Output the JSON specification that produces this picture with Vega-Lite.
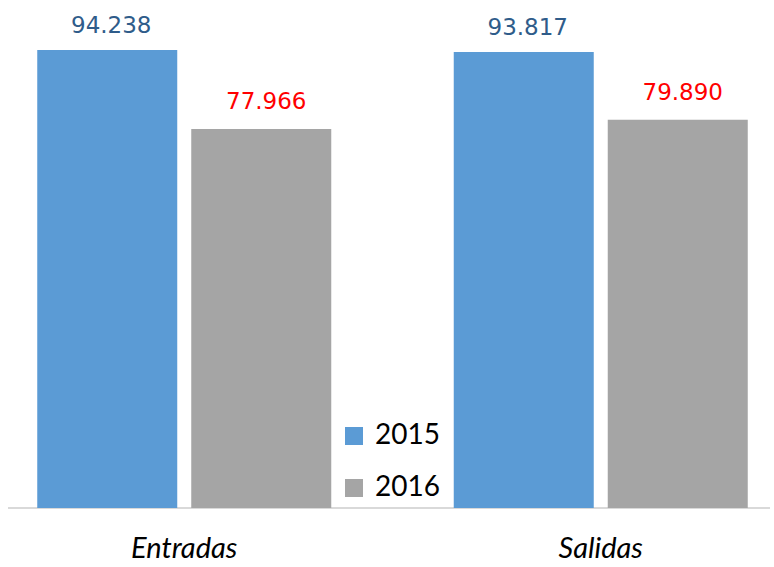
{
  "$schema": "https://vega.github.io/schema/vega-lite/v6.json",
  "width": 762,
  "height": 508,
  "padding": {"left": 8, "top": 0, "right": 4, "bottom": 59},
  "autosize": {"type": "none"},
  "background": "white",
  "config": {"view": {"stroke": null}},
  "data": {
    "values": [
      {"cat": "Entradas", "year": "2015", "value": 94238, "label": "94.238"},
      {"cat": "Entradas", "year": "2016", "value": 77966, "label": "77.966"},
      {"cat": "Salidas", "year": "2015", "value": 93817, "label": "93.817"},
      {"cat": "Salidas", "year": "2016", "value": 79890, "label": "79.890"}
    ]
  },
  "encoding": {
    "x": {
      "field": "cat",
      "type": "nominal",
      "sort": ["Entradas", "Salidas"],
      "scale": {"range": [-32, 801], "paddingInner": 0, "paddingOuter": 0},
      "axis": {
        "title": null,
        "domain": false,
        "ticks": false,
        "labelAngle": 0,
        "labelFont": "Lato",
        "labelFontStyle": "italic",
        "labelFontSize": 29,
        "labelColor": "#000000",
        "labelPadding": 26
      }
    },
    "xOffset": {
      "field": "year",
      "type": "nominal",
      "scale": {"paddingInner": 0.0909, "paddingOuter": 0.3977}
    },
    "y": {
      "field": "value",
      "type": "quantitative",
      "scale": {"domain": [0, 104525]},
      "axis": null
    }
  },
  "layer": [
    {
      "mark": {"type": "rule", "color": "#d9d9d9", "strokeWidth": 1.5},
      "encoding": {"x": null, "xOffset": null, "y": {"datum": 0, "type": "quantitative"}}
    },
    {
      "mark": {"type": "bar"},
      "encoding": {
        "color": {
          "field": "year",
          "type": "nominal",
          "scale": {"domain": ["2015", "2016"], "range": ["#5B9BD5", "#A5A5A5"]},
          "legend": {
            "title": null,
            "orient": "none",
            "legendX": 332,
            "legendY": 422,
            "padding": 0,
            "symbolType": "square",
            "symbolSize": 324,
            "symbolStrokeWidth": 0,
            "labelFont": "Lato",
            "labelFontSize": 28,
            "labelColor": "#000000",
            "labelOffset": 7,
            "rowPadding": 24
          }
        }
      }
    },
    {
      "transform": [{"filter": "datum.year == '2015'"}],
      "mark": {"type": "text", "dy": -17, "dx": 4, "baseline": "alphabetic", "font": "DejaVu Sans", "fontSize": 23, "color": "#2F5C8A"},
      "encoding": {"text": {"field": "label"}}
    },
    {
      "transform": [{"filter": "datum.year == '2016'"}],
      "mark": {"type": "text", "dy": -20, "dx": 5, "baseline": "alphabetic", "font": "DejaVu Sans", "fontSize": 23, "color": "#FF0000"},
      "encoding": {"text": {"field": "label"}}
    }
  ]
}
